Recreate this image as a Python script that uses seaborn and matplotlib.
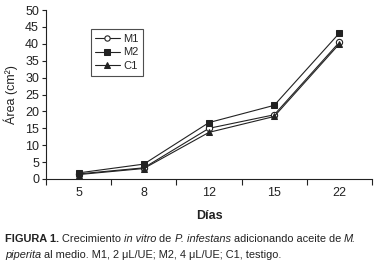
import matplotlib
matplotlib.use("Agg")
import matplotlib.pyplot as plt
import seaborn as sns
from matplotlib.ticker import FixedLocator

dias = ["5", "8", "12", "15", "22"]
m1 = [1.5, 3.3, 15.0, 19.0, 40.5]
m2 = [1.8, 4.4, 16.7, 21.8, 43.2]
c1 = [1.3, 3.1, 13.8, 18.5, 40.0]

sns.set_style("ticks")
plt.rcParams['font.family'] = ['Liberation Sans Narrow', 'Liberation Sans', 'DejaVu Sans']

fig = plt.figure(figsize=(3.8, 2.72), dpi=100)
ax = fig.add_axes([0.121, 0.342, 0.858, 0.621])

col = "#222222"
sns.lineplot(x=dias, y=m1, sort=False, ax=ax, color=col, lw=0.8, marker='o',
             ms=4.5, mfc='white', mec=col, mew=0.8, label='M1')
sns.lineplot(x=dias, y=m2, sort=False, ax=ax, color=col, lw=0.8, marker='s',
             ms=5, mfc=col, mec=col, label='M2')
sns.lineplot(x=dias, y=c1, sort=False, ax=ax, color=col, lw=0.8, marker='^',
             ms=5, mfc=col, mec=col, label='C1')

ax.set_xlim(-0.5, 4.5)
ax.set_ylim(0, 50)
ax.set_yticks(range(0, 51, 5))
ax.xaxis.set_minor_locator(FixedLocator([-0.5, 0.5, 1.5, 2.5, 3.5, 4.5]))
ax.tick_params(axis='x', which='major', length=0, labelsize=9, pad=6, colors='#222222')
ax.tick_params(axis='x', which='minor', length=4, width=0.8, color='#222222')
ax.tick_params(axis='y', length=3, width=0.8, labelsize=9, pad=2, colors='#222222')
for s in ['top', 'right']:
    ax.spines[s].set_visible(False)
for s in ['left', 'bottom']:
    ax.spines[s].set_linewidth(0.8)
    ax.spines[s].set_color('#222222')

ax.set_xlabel("Días", fontsize=9, fontweight='bold', labelpad=8, color='#222222')
ax.set_ylabel("Área (cm²)", fontsize=9, labelpad=5, color='#222222')

leg = ax.legend(loc='upper left', bbox_to_anchor=(0.12, 0.92), fontsize=8,
                frameon=True, fancybox=False, edgecolor='#222222', handlelength=2.2,
                handletextpad=0.3, borderpad=0.4, labelspacing=0.35, markerscale=0.85)
leg.get_frame().set_linewidth(0.8)

# caption with mixed styles
fig.canvas.draw()
renderer = fig.canvas.get_renderer()

def write(parts, x0, y0):
    x = x0
    for txt, style, weight in parts:
        t = fig.text(x, y0, txt, fontsize=7.9, fontstyle=style, fontweight=weight,
                     color='#222222', ha='left', va='baseline')
        bb = t.get_window_extent(renderer=renderer)
        x += bb.width / fig.bbox.width

line1 = [("FIGURA 1.", 'normal', 'bold'), (" Crecimiento ", 'normal', 'normal'),
         ("in vitro", 'italic', 'normal'), (" de ", 'normal', 'normal'),
         ("P. infestans", 'italic', 'normal'), (" adicionando aceite de ", 'normal', 'normal'),
         ("M.", 'italic', 'normal')]
line2 = [("piperita", 'italic', 'normal'),
         (" al medio. M1, 2 μL/UE; M2, 4 μL/UE; C1, testigo.", 'normal', 'normal')]
write(line1, 0.013, 1 - 242 / 272)
write(line2, 0.013, 1 - 258 / 272)

fig.savefig("out.png", dpi=100)
